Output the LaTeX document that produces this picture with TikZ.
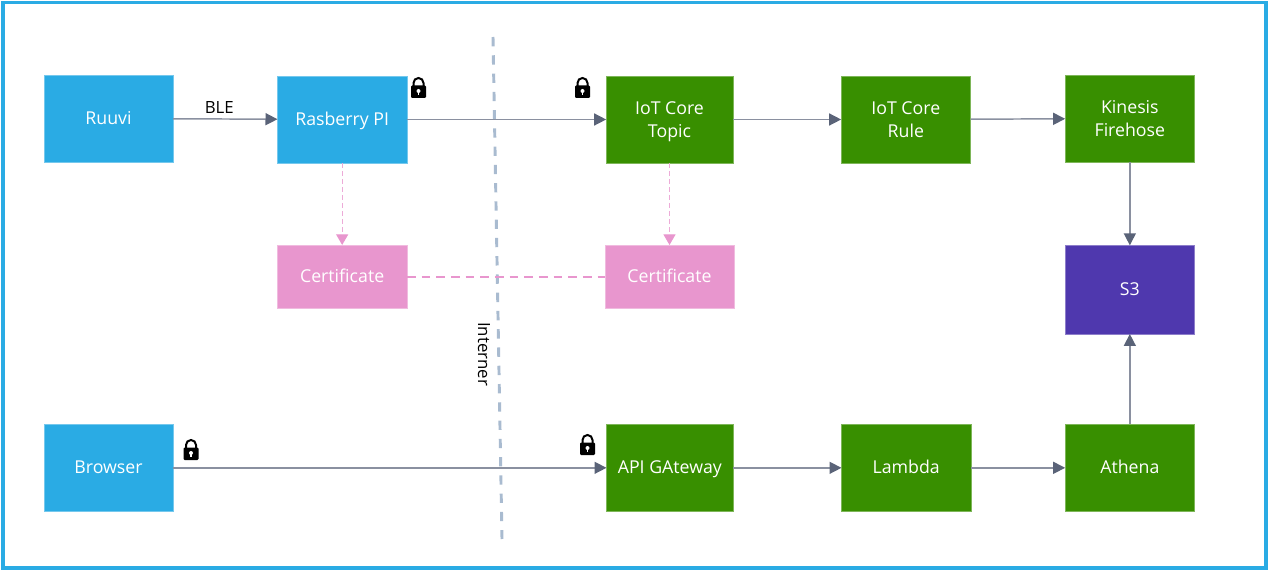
\documentclass[tikz,border=0pt]{standalone}
\usepackage{fontspec}
\setmainfont{Open Sans}
\usetikzlibrary{arrows.meta,positioning}
\definecolor{sky}{HTML}{2AABE4}
\definecolor{leaf}{HTML}{388F00}
\definecolor{pink}{HTML}{E896CE}
\definecolor{grape}{HTML}{4F38AE}
\definecolor{slate}{HTML}{5A6378}
\definecolor{wire}{HTML}{8A90A0}
\definecolor{zone}{HTML}{A9BBD0}
\tikzset{
  service/.style={draw=#1!65,fill=#1,line width=0.5pt,outer sep=0pt,inner sep=0pt,align=center,text=white,font=\fontsize{13.3}{17.25}\selectfont,minimum width=97pt,minimum height=65.25pt,text height=12pt,text depth=2.9pt},
  twoline/.style={text height=29pt,text depth=2pt},
  cert/.style={service=pink,minimum height=47.5pt},
  flow/.style={-{Triangle[length=9pt,width=9pt,color=slate]},line width=1.1pt,draw=wire},
  softflow/.style={-{Triangle[length=8pt,width=9pt,color=pink]},line width=1pt,draw=pink!80,dash pattern=on 3.5pt off 2.5pt},
  softlink/.style={line width=1.4pt,draw=pink,dash pattern=on 6.5pt off 4.5pt},
  zoneline/.style={line width=2.2pt,draw=zone,dash pattern=on 7pt off 6.7pt},
  caption/.style={text=black,font=\fontsize{12.6}{15}\selectfont,inner sep=0pt},
  lock/.pic={
    \draw[line width=1.5pt,black] (-5,0) -- (-5,-5) arc[start angle=180,end angle=360,x radius=5,y radius=5] -- (5,0);
    \fill[black,rounded corners=0.8pt] (-7.5,-2.5) rectangle (7.5,10);
    \fill[white] (0,3) circle[radius=2];
    \fill[white] (-0.8,3) rectangle (0.8,7);
  }
}
\begin{document}
\begin{tikzpicture}[x=0.75pt,y=-0.75pt]
  \useasboundingbox (0,0) rectangle (1268,570);
  \draw[sky,line width=2.4pt] (3,2.5) rectangle (1266,568);

  % top row
  \node[service=sky] (ruuvi) at (108.5,118.5) {Ruuvi};
  \node[service=sky,right=78.25pt of ruuvi,yshift=-0.75pt] (rasberry) {Rasberry PI};
  \node[service=leaf,twoline,right=149.5pt of rasberry,minimum width=95pt] (topic) {IoT Core\\Topic};
  \node[service=leaf,twoline,right=81.25pt of topic] (rule) {IoT Core\\Rule};
  \node[service=leaf,twoline,right=71pt of rule,yshift=0.75pt] (kinesis) {Kinesis\\Firehose};

  % certificates and storage
  \node[cert,below=61.5pt of rasberry] (certpi) {Certificate};
  \node[cert,below=61.5pt of topic,minimum width=96.5pt] (certiot) {Certificate};
  \node[service=grape,below=62.5pt of kinesis,minimum height=66.5pt] (s3) {S3};

  % bottom row
  \node[service=sky,below=196.75pt of ruuvi] (browser) {Browser};
  \node[service=leaf,right=325pt of browser,minimum width=95pt] (api) {API GAteway};
  \node[service=leaf,right=81.25pt of api] (lambda) {Lambda};
  \node[service=leaf,right=70.75pt of lambda] (athena) {Athena};

  % internet boundary
  \coordinate (zonetop) at (493,37);
  \coordinate (zonebot) at (502,539);
  \draw[zoneline] (zonetop) -- (zonebot);
  \node[caption,rotate=-90] (internet) at (484,354) {Interner};

  \draw[flow] (ruuvi) -- node[caption,above=3.5pt,xshift=-4.5pt] (ble) {BLE} (rasberry);
  \draw[flow] (rasberry) -- (topic);
  \draw[flow] (topic) -- (rule);
  \draw[flow] (rule) -- (kinesis);
  \draw[flow] (kinesis) -- (s3);
  \draw[flow] (athena) -- (s3);
  \draw[flow] (browser) -- (api);
  \draw[flow] (api) -- (lambda);
  \draw[flow] (lambda) -- (athena);
  \draw[softflow] (rasberry) -- (certpi);
  \draw[softflow] (topic) -- (certiot);
  \draw[softlink] (certpi) -- (certiot);

  \pic at (418.5,88) {lock};
  \pic at (582.5,88) {lock};
  \pic at (191,450) {lock};
  \pic at (587.5,445) {lock};
\end{tikzpicture}
\end{document}
